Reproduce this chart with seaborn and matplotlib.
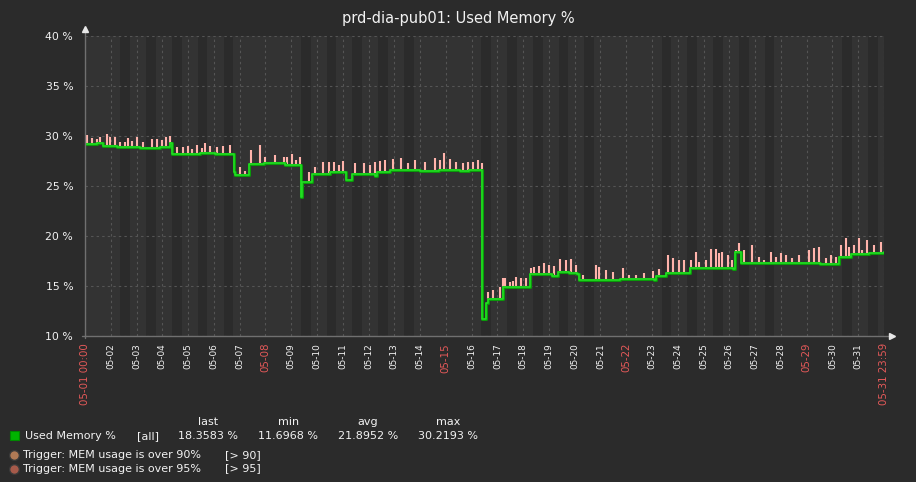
import numpy as np
import pandas as pd
import seaborn as sns
import matplotlib.pyplot as plt
from matplotlib.patches import Rectangle
from matplotlib.lines import Line2D

# --- Data (hours since 05-01 00:00) ---
level_hours = [0, 11, 17, 30, 51, 70, 79, 81, 107, 121,
               139, 140, 153, 167, 186, 201, 202, 211, 228, 243,
               249, 270, 272, 284, 312, 330, 349, 358, 369.5, 373.6,
               375, 389, 414, 435, 440, 451, 458, 460, 498, 530,
               532, 541, 563, 603, 605, 611, 684, 702, 713, 730, 744]
level_values = [29.2, 29.3, 29.0, 28.9, 28.8, 28.9, 29.3, 28.2, 28.3, 28.2,
                26.4, 26.1, 27.2, 27.3, 27.1, 23.9, 25.4, 26.2, 26.4, 25.6,
                26.2, 26.0, 26.4, 26.6, 26.5, 26.6, 26.5, 26.6, 11.7, 13.3,
                13.7, 14.9, 16.2, 16.0, 16.4, 16.3, 16.2, 15.6, 15.7, 15.6,
                16.0, 16.3, 16.8, 16.7, 18.4, 17.3, 17.2, 17.9, 18.2, 18.3, 18.4]

spike_hours = [1.6, 6.2, 10.9, 14, 20.2, 23.3, 27.9, 32.6, 37.2, 40.3,
               43.4, 48.7, 54.2, 62, 66.7, 71.3, 75.3, 79, 85.3, 91.4,
               96.1, 99.2, 103.9, 108.5, 112.2, 116.3, 122.5, 128.6, 134.9, 144.2,
               148.8, 155, 162.8, 167.4, 176.7, 185.1, 188.2, 193.1, 196.9, 200.6,
               208.6, 213.9, 221.6, 227.2, 231.6, 236.5, 240.2, 251.1, 259.5, 265.1,
               270.3, 275, 279, 286.8, 294.5, 300.7, 307.5, 316.2, 325.5, 330.2,
               334.5, 340.1, 345, 351.8, 356.5, 361.1, 366.1, 369.2, 375.1, 379.7,
               386, 389.1, 391.2, 395.3, 398.3, 401.5, 406.1, 410.8, 415.4, 418.5,
               423.2, 427.8, 432.5, 437.1, 442.4, 448, 452.6, 457.3, 463.5, 475.9,
               479, 485.2, 491.3, 501.3, 506.9, 513.1, 520.8, 528.5, 534.8, 542.5,
               547.1, 553.4, 558, 564.2, 568.9, 572, 578.2, 582.8, 587.5, 590.6,
               593.6, 598.3, 602.9, 606.1, 609.2, 613.8, 621.5, 627.8, 632.4, 638.6,
               643.2, 647.9, 652.6, 658.7, 665, 674.3, 678.9, 683.6, 689.8, 694.4,
               699.1, 703.7, 708.4, 711.5, 716.1, 720.8, 723.8, 728.5, 734.7, 740.9]
spike_values = [30.1, 29.8, 29.7, 29.9, 30.2, 29.9, 29.9, 29.4, 29.4, 29.8,
                29.5, 29.9, 29.4, 29.7, 29.7, 29.6, 29.9, 30.0, 28.9, 28.9,
                29.0, 28.7, 29.1, 28.8, 29.3, 29.0, 28.9, 29.0, 29.1, 26.9,
                26.5, 28.6, 29.1, 27.9, 28.1, 27.9, 27.9, 28.2, 27.6, 27.9,
                26.4, 26.9, 27.4, 27.4, 27.4, 27.1, 27.5, 27.3, 27.3, 27.1,
                27.4, 27.5, 27.6, 27.7, 27.8, 27.3, 27.6, 27.4, 27.8, 27.6,
                28.3, 27.7, 27.4, 27.3, 27.4, 27.4, 27.6, 27.3, 14.4, 14.6,
                14.9, 15.8, 15.8, 15.4, 15.5, 15.9, 15.8, 15.8, 16.8, 16.9,
                17.0, 17.3, 17.1, 17.0, 17.7, 17.6, 17.7, 17.1, 16.1, 17.1,
                16.9, 16.6, 16.4, 16.8, 16.1, 16.1, 16.3, 16.5, 16.7, 18.1,
                17.8, 17.6, 17.6, 17.6, 18.4, 17.4, 17.6, 18.7, 18.7, 18.3,
                18.4, 18.1, 17.6, 18.6, 19.3, 18.6, 19.1, 17.9, 17.6, 18.4,
                17.9, 18.3, 18.1, 17.8, 18.1, 18.6, 18.8, 18.9, 17.8, 18.1,
                17.9, 19.1, 19.8, 18.9, 19.1, 19.8, 18.6, 19.6, 19.1, 19.4]

day_labels = ["05-%02d" % d for d in range(2, 32)]
red_labels = ["05-01 00:00", "05-08", "05-15", "05-22", "05-29", "05-31 23:59"]
workdays = [2, 3, 4, 5, 6, 9, 10, 11, 12, 13, 16, 17, 18, 19, 20,
            23, 24, 25, 26, 27, 30, 31]
y_ticks = [10, 15, 20, 25, 30, 35, 40]

stat_names = ["last", "min", "avg", "max"]
stat_values = ["18.3583 %", "11.6968 %", "21.8952 %", "30.2193 %"]
triggers = [("Trigger: MEM usage is over 90%", "[> 90]", "#b07a55"),
            ("Trigger: MEM usage is over 95%", "[> 95]", "#a65a4a")]

# --- Style ---
BG = "#2b2b2b"
TXT = "#f2f2f2"
RED = "#e45959"
sns.set_theme(style="dark", rc={"figure.facecolor": BG, "axes.facecolor": "#333333",
                                "text.color": TXT, "xtick.color": TXT, "ytick.color": TXT})
plt.rcParams["font.family"] = ["DejaVu Sans"]

W, H = 916, 482
fig = plt.figure(figsize=(W / 100, H / 100), dpi=100)
ax = fig.add_axes([85 / W, 1 - 336 / H, 799 / W, 300 / H])

# work time shading
for d in workdays:
    ax.axvspan((d - 1) * 24 + 9, (d - 1) * 24 + 18, color=BG, lw=0, zorder=0.8)

# spikes (max) and level line
idx = np.searchsorted(level_hours, spike_hours, side="right") - 1
base = np.array(level_values)[idx]
ax.vlines(spike_hours, base, spike_values, color="#ffb3ab", lw=1.5, zorder=3)

df = pd.DataFrame({"hour": level_hours, "value": level_values})
sns.lineplot(data=df, x="hour", y="value", drawstyle="steps-post", color="#0a9a0a",
             lw=2.2, ax=ax, zorder=4, errorbar=None)
sns.lineplot(data=df, x="hour", y="value", drawstyle="steps-post", color="#22dd22",
             lw=1.2, ax=ax, zorder=4.5, errorbar=None)

ax.set_xlim(0, 743.98)
ax.set_ylim(10, 40)
ax.set_xlabel("")
ax.set_ylabel("")

xt = [0] + [24 * (i + 1) for i in range(len(day_labels))] + [743.98]
xl = ["05-01 00:00"] + day_labels + ["05-31 23:59"]
ax.set_xticks(xt, xl, rotation=90)
ax.tick_params(axis="x", length=0, pad=5, labelsize=6.4)
for t in ax.get_xticklabels():
    if t.get_text() in red_labels:
        t.set_color(RED)
        t.set_fontsize(7.4)

ax.set_yticks(y_ticks, [f"{v} %" for v in y_ticks])
ax.tick_params(axis="y", length=0, pad=8.5, labelsize=7.8)

ax.grid(True, color="#555555", linestyle=(0, (2.2, 2.8)), linewidth=0.8)
ax.set_axisbelow("line")
for s in ax.spines.values():
    s.set_visible(False)

# axes with arrows
ax.plot([0, 0], [-0.007, 1.02], transform=ax.transAxes, color="#707070", lw=1, clip_on=False, zorder=5)
ax.plot([-0.004, 1.008], [0, 0], transform=ax.transAxes, color="#707070", lw=1, clip_on=False, zorder=5)
ax.plot([0], [1.023], marker="^", ms=4, color="#e8e8e8", transform=ax.transAxes, clip_on=False, zorder=6)
ax.plot([1.01], [0], marker=">", ms=4, color="#e8e8e8", transform=ax.transAxes, clip_on=False, zorder=6)

# title
fig.text(458 / W, 1 - 19 / H, "prd-dia-pub01: Used Memory %", ha="center", va="center",
         fontsize=10.5, color=TXT)

# legend
cols = [208, 288.5, 368, 448]
for cx, name, val in zip(cols, stat_names, stat_values):
    fig.text(cx / W, 1 - 422 / H, name, ha="center", va="center", fontsize=8, color=TXT)
    fig.text(cx / W, 1 - 436 / H, val, ha="center", va="center", fontsize=8, color=TXT)
fig.patches.append(Rectangle((10 / W, 1 - 440 / H), 9 / W, 9 / H, transform=fig.transFigure,
                             facecolor="#00b400", edgecolor="#008800", lw=0.8))
fig.text(25 / W, 1 - 436 / H, "Used Memory %", ha="left", va="center", fontsize=8, color=TXT)
fig.text(137 / W, 1 - 436 / H, "[all]", ha="left", va="center", fontsize=8, color=TXT)

for i, (name, thr, col) in enumerate(triggers):
    yy = 1 - (455 + 13.5 * i) / H
    fig.add_artist(Line2D([14.5 / W], [yy], marker="o", ms=7, markerfacecolor=col,
                          markeredgecolor="#3a3a3a", transform=fig.transFigure))
    fig.text(23 / W, yy, name, ha="left", va="center", fontsize=8, color=TXT)
    fig.text(225 / W, yy, thr, ha="left", va="center", fontsize=8, color=TXT)

fig.savefig("out.png", dpi=100, facecolor=BG)
